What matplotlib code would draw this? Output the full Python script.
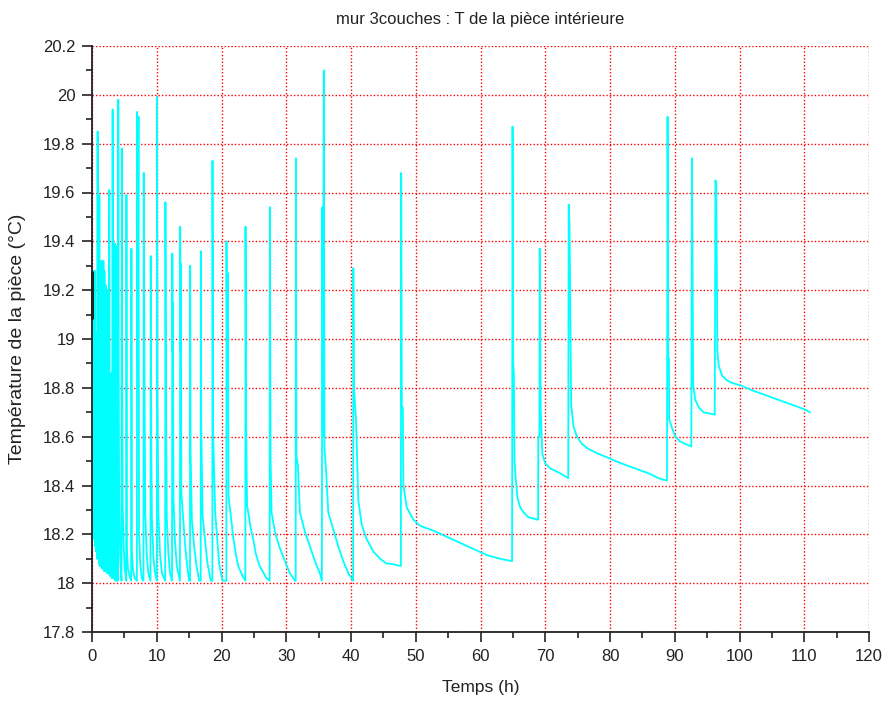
import numpy as np
import matplotlib
matplotlib.use("Agg")
import matplotlib.pyplot as plt
from matplotlib.ticker import MultipleLocator

plt.rcParams['font.family'] = ['Liberation Sans', 'DejaVu Sans']

# temps (h) / temperature (degC)
# 0 - 20.75 h : fast cycling of the heater
t_early = [0.00, 0.05, 0.12, 0.19, 0.27, 0.34, 0.41, 0.47, 0.55, 0.62,
           0.70, 0.78, 0.87, 0.93, 1.00, 1.06, 1.13, 1.20, 1.28, 1.35,
           1.45, 1.52, 1.60, 1.68, 1.76, 1.84, 1.92, 2.00, 2.10, 2.18,
           2.28, 2.36, 2.44, 2.52, 2.60, 2.67, 2.74, 2.84, 2.92, 3.02,
           3.10, 3.19, 3.26, 3.36, 3.44, 3.55, 3.62, 3.72, 3.80, 3.90,
           3.98, 4.06, 4.12, 4.20, 4.35, 4.50, 4.56, 4.60, 4.66, 4.74,
           4.90, 5.05, 5.28, 5.32, 5.38, 5.55, 5.80, 6.05, 6.09, 6.14,
           6.35, 6.60, 6.93, 6.97, 7.06, 7.18, 7.26, 7.45, 7.70, 7.95,
           7.99, 8.10, 8.22, 8.45, 8.70, 9.03, 9.07, 9.14, 9.25, 9.50,
           9.75, 10.01, 10.05, 10.12, 10.25, 10.50, 10.80, 11.30, 11.34, 11.42,
           11.55, 11.80, 12.05, 12.36, 12.40, 12.46, 12.50, 12.58, 12.80, 13.10,
           13.58, 13.62, 13.66, 13.72, 13.80, 14.10, 14.40, 14.70, 15.00, 15.14,
           15.16, 15.22, 15.42, 15.78, 16.14, 16.55, 16.79, 16.81, 16.87, 17.07,
           17.48, 17.84, 18.35, 18.59, 18.61, 18.68, 19.02, 19.38, 19.64, 20.15,
           20.75]
T_early = [19.27, 18.22, 19.26, 18.20, 19.25, 18.18, 19.28, 18.15, 19.03, 18.13,
           19.02, 18.10, 19.85, 18.12, 19.05, 18.08, 19.59, 18.07, 19.10, 18.07,
           19.32, 18.06, 19.30, 18.06, 19.32, 18.05, 19.28, 18.05, 19.22, 18.05,
           19.20, 18.04, 19.02, 18.04, 18.95, 19.61, 18.03, 18.84, 18.03, 18.86,
           18.02, 19.94, 18.02, 18.90, 18.02, 19.39, 18.01, 19.38, 18.01, 18.88,
           18.01, 19.98, 18.90, 18.30, 18.12, 18.03, 18.01, 19.78, 18.94, 18.32,
           18.15, 18.06, 18.01, 19.59, 18.15, 18.06, 18.03, 18.01, 19.37, 18.14,
           18.05, 18.02, 18.01, 19.93, 18.90, 19.91, 18.21, 18.08, 18.02, 18.01,
           19.68, 18.89, 18.29, 18.12, 18.04, 18.01, 19.34, 18.61, 18.27, 18.10,
           18.04, 18.01, 19.99, 18.75, 18.29, 18.12, 18.04, 18.01, 19.56, 18.80,
           18.27, 18.12, 18.04, 18.01, 19.35, 18.95, 19.15, 18.35, 18.18, 18.07,
           18.01, 19.46, 18.95, 19.31, 18.37, 18.26, 18.15, 18.07, 18.01, 18.01,
           19.30, 18.55, 18.26, 18.15, 18.07, 18.01, 18.01, 19.36, 18.66, 18.28,
           18.17, 18.08, 18.01, 18.01, 19.73, 18.64, 18.29, 18.17, 18.08, 18.01,
           18.01]

# 20.75 - 47.7 h : cycles getting longer, still down to 18 degC
t_mid = [20.77, 20.85, 21.00, 21.08, 21.55, 21.80, 22.20, 22.58, 23.25, 23.68,
         23.71, 23.80, 23.95, 24.48, 24.90, 25.30, 25.90, 26.96, 27.44,
         27.47, 27.58, 27.73, 28.25, 28.92, 29.80, 30.57, 31.34, 31.46,
         31.49, 31.58, 31.80, 32.11, 32.89, 33.66, 34.43, 35.20, 35.50,
         35.58, 35.66, 35.80, 35.90, 36.13, 36.49, 37.27, 38.04, 38.81, 39.59, 40.10, 40.33,
         40.36, 40.45, 40.77, 41.13, 41.65, 42.42, 43.45, 44.48, 45.52, 46.03, 47.70]
T_mid = [19.40, 18.95, 19.27, 18.36, 18.25, 18.19, 18.12, 18.07, 18.03, 18.01,
         19.46, 18.65, 18.32, 18.23, 18.18, 18.12, 18.07, 18.02, 18.01,
         19.54, 18.51, 18.29, 18.21, 18.15, 18.09, 18.04, 18.01, 18.01,
         19.74, 18.52, 18.48, 18.29, 18.21, 18.15, 18.09, 18.04, 18.01,
         19.54, 18.60, 20.10, 18.55, 18.47, 18.29, 18.22, 18.15, 18.09, 18.04, 18.02, 18.01,
         19.29, 18.80, 18.67, 18.34, 18.24, 18.18, 18.13, 18.10, 18.08, 18.08, 18.07]

# 47.7 - 111 h : long cycles, minimum slowly rising
t_late = [47.75, 47.85, 48.00, 48.10, 48.60, 49.64, 50.67, 52.73, 54.79, 56.86,
          58.92, 60.98, 63.04, 64.88,
          64.95, 65.05, 65.15, 65.25, 65.46, 65.72, 66.13, 66.65, 67.42, 68.81, 68.90,
          68.92, 69.10, 69.15, 69.30, 69.55, 70.00, 70.77, 72.30, 73.55,
          73.62, 73.75, 74.00, 74.38, 74.90, 75.67, 76.64, 78.19, 80.00, 81.81,
          83.88, 85.94, 87.49, 88.80,
          88.89, 89.00, 89.10, 89.15, 89.66, 90.08, 90.85, 91.63, 92.56,
          92.66, 92.85, 93.18, 93.70, 94.47, 96.18,
          96.28, 96.40, 96.59, 96.80, 97.31, 98.09, 98.86, 100.16, 101.96, 104.03,
          106.10, 108.16, 110.23, 110.85]
T_late = [19.68, 18.72, 18.72, 18.40, 18.31, 18.26, 18.235, 18.215, 18.19, 18.165,
          18.14, 18.115, 18.10, 18.09,
          19.87, 18.90, 18.86, 18.50, 18.42, 18.35, 18.31, 18.29, 18.27, 18.26, 18.26,
          18.60, 18.60, 19.37, 18.71, 18.53, 18.49, 18.47, 18.45, 18.43,
          19.55, 19.47, 18.73, 18.64, 18.60, 18.57, 18.55, 18.53, 18.51, 18.49,
          18.47, 18.45, 18.43, 18.42,
          19.91, 18.92, 18.92, 18.67, 18.63, 18.60, 18.58, 18.57, 18.56,
          19.74, 18.81, 18.75, 18.72, 18.70, 18.69,
          19.65, 19.64, 18.95, 18.89, 18.85, 18.83, 18.82, 18.81, 18.79, 18.77,
          18.75, 18.73, 18.71, 18.70]

# dark stroke on the left axis at t = 0
t_start = [0.0, 0.0]
T_start = [19.08, 19.28]

x_ticks = np.arange(0, 121, 10)
y_ticks = np.round(np.arange(17.8, 20.21, 0.2), 1)

temps = np.concatenate([t_early, t_mid, t_late])
temp_piece = np.concatenate([T_early, T_mid, T_late])

fig = plt.figure(figsize=(8.88, 7.06), dpi=100)
ax = fig.add_axes([92 / 888, 1 - 632 / 706, (869 - 92) / 888, (632 - 46) / 706])

ax.plot(temps, temp_piece, color='#00ffff', lw=1.3, zorder=3)
ax.plot(t_start, T_start, color='#222222', lw=2.2, zorder=4, clip_on=False,
        solid_capstyle='butt')

ax.set_xlim(0, 120)
ax.set_ylim(17.8, 20.2)
ax.set_xticks(x_ticks)
ax.set_xticklabels([str(v) for v in x_ticks])
ax.set_yticks(y_ticks)
ax.set_yticklabels(['%g' % v for v in y_ticks])
ax.xaxis.set_minor_locator(MultipleLocator(5))
ax.yaxis.set_minor_locator(MultipleLocator(0.1))

ax.tick_params(which='major', direction='out', length=7, width=1.2,
               labelsize=12, colors='#222222', labelcolor='#222222', pad=5)
ax.tick_params(which='minor', direction='out', length=4, width=1.2,
               colors='#222222')

for side in ['top', 'right']:
    ax.spines[side].set_visible(False)
for side in ['left', 'bottom']:
    ax.spines[side].set_linewidth(1.3)
    ax.spines[side].set_color('#222222')
    ax.spines[side].set_zorder(5)

ax.grid(True, which='major', color='red', linestyle=(0, (1, 1.5)), lw=1)
ax.set_axisbelow(True)

ax.set_title('mur 3couches : T de la pièce intérieure', fontsize=12,
             color='#222222', pad=16)
ax.set_xlabel('Temps (h)', fontsize=12.5, color='#222222', labelpad=12)
ax.set_ylabel('Température de la pièce (°C)', fontsize=14, color='#222222',
              labelpad=12)

fig.savefig('out.png', dpi=100, facecolor='white')
